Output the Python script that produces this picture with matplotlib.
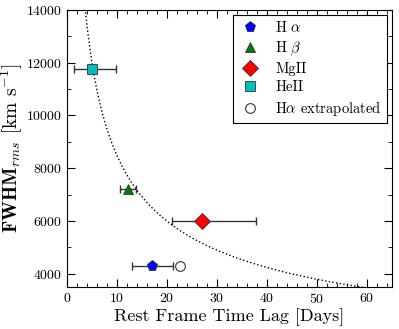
import numpy as np
import matplotlib
matplotlib.use("Agg")
import matplotlib.pyplot as plt
from matplotlib.ticker import MultipleLocator

plt.rcParams['font.family'] = 'serif'
plt.rcParams['font.serif'] = ['cmr10', 'DejaVu Serif']
plt.rcParams['mathtext.fontset'] = 'cm'
plt.rcParams['axes.formatter.use_mathtext'] = True

# lag [days], lag error (lo, hi), FWHM_rms [km/s]
lines = ["H $\\alpha$", "H $\\beta$", "MgII", "HeII"]
lag = [17.0, 12.2, 27.0, 5.0]
lag_lo = [4.0, 1.6, 6.0, 3.6]
lag_hi = [4.2, 1.6, 10.8, 4.8]
fwhm = [4300, 7200, 6000, 11750]
markers = ['p', '^', 'D', 's']
colors = ['#0000ff', '#007f00', '#ff0000', '#00bfbf']
sizes = [8, 7, 8, 7]

# H alpha extrapolated
ext_lag = 22.6
ext_fwhm = 4300

# virial relation FWHM ~ tau^-1/2, normalised through HeII
k_vir = 26800.0

fig, ax = plt.subplots(figsize=(3.99, 3.29), dpi=100)

t = np.linspace(3.5, 63, 400)
ax.plot(t, k_vir / np.sqrt(t), ':', color='black', lw=1.0)

for i in range(len(lines)):
    ax.errorbar(lag[i], fwhm[i], xerr=[[lag_lo[i]], [lag_hi[i]]],
                fmt='none', ecolor='#333333', elinewidth=1.0, capsize=3,
                zorder=2)
    ax.plot(lag[i], fwhm[i], markers[i], color=colors[i], mec='#333333',
            mew=0.6, ms=sizes[i], label=lines[i], zorder=3)
ax.plot(ext_lag, ext_fwhm, 'o', mfc='white', mec='#333333', ms=7, mew=0.8,
        label="H$\\alpha$ extrapolated", zorder=3)

ax.set_xlim(0, 65)
ax.set_ylim(3500, 14000)
ax.xaxis.set_major_locator(MultipleLocator(10))
ax.xaxis.set_minor_locator(MultipleLocator(2))
ax.yaxis.set_major_locator(MultipleLocator(2000))
ax.yaxis.set_minor_locator(MultipleLocator(1000))
ax.tick_params(which='both', direction='in', top=True, right=True, labelsize=10)
ax.tick_params(which='major', length=6)
ax.tick_params(which='minor', length=3)

ax.set_xlabel("Rest Frame Time Lag [Days]", fontsize=13, labelpad=2)
ax.set_ylabel("$\\mathbf{FWHM}_{rms}$ [km s$^{-1}$]", fontsize=14)
ax.yaxis.set_label_coords(-0.128, 0.5)

leg = ax.legend(loc='upper right', fontsize=10.5, numpoints=1, fancybox=False,
                edgecolor='black', framealpha=1, handletextpad=0.9,
                handlelength=1.6, borderaxespad=0.35, labelspacing=0.3,
                borderpad=0.35)
leg.get_frame().set_linewidth(0.8)

fig.subplots_adjust(left=0.168, right=0.982, top=0.97, bottom=0.128)
fig.savefig("out.png", dpi=100)
